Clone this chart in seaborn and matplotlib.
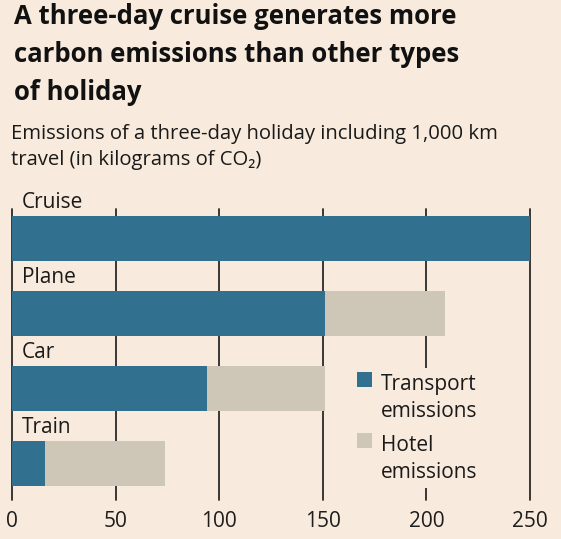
import matplotlib
matplotlib.use("Agg")
import seaborn as sns
from matplotlib import pyplot as plt
from matplotlib.patches import Rectangle

# Values (kg of CO2)
modes = ['Cruise', 'Plane', 'Car', 'Train']
transport = [250, 151, 94, 16]
hotel = [0, 58, 57, 58]
totals = [t + h for t, h in zip(transport, hotel)]
ticks = [0, 50, 100, 150, 200, 250]
legend_labels = ['Transport\nemissions', 'Hotel\nemissions']

bg = '#F8EBDD'
blue = '#31708F'
beige = '#CEC7B8'
W, H = 561, 539


def fx(px):
    return px / W


def fy(py):
    return 1 - py / H


sns.set_theme(style='white')
plt.rcParams['font.family'] = ['Open Sans', 'DejaVu Sans']

fig = plt.figure(figsize=(W / 100, H / 100), dpi=100, facecolor=bg)
ax = fig.add_axes([fx(12), fy(500), 518 / W, 291 / H])
ax.set_facecolor(bg)

sns.barplot(x=totals, y=modes, color=beige, width=0.6, saturation=1,
            linewidth=0, ax=ax, zorder=2)
sns.barplot(x=transport, y=modes, color=blue, width=0.6, saturation=1,
            linewidth=0, ax=ax, zorder=3)

ax.set_xlim(0, 250)
ax.set_ylim(3.48, -0.393)
ax.set_xticks(ticks)
ax.set_xticklabels([str(t) for t in ticks], fontsize=15, color='#1e1e1e')
ax.set_yticks([])
ax.set_xlabel('')
ax.set_ylabel('')
ax.tick_params(axis='x', length=0, pad=8)
for t in ticks:
    ax.axvline(t, color='#2a2a2a', lw=1.3, zorder=1, clip_on=False)
for s in ax.spines.values():
    s.set_visible(False)

for i, m in enumerate(modes):
    ax.text(4.8, i - 0.407, m, fontsize=15, color='#1a1a1a',
            va='baseline', ha='left', zorder=4)

# legend drawn by hand so the swatches sit against the first text line
fig.patches.append(Rectangle((fx(342), fy(488)), fx(490) - fx(342), fy(368) - fy(488),
                             transform=fig.transFigure, facecolor=bg, edgecolor='none', zorder=5))
for k, (lab, col) in enumerate(zip(legend_labels, [blue, beige])):
    top = 372 + 61 * k
    fig.patches.append(Rectangle((fx(357), fy(top + 15)), 15 / W, 15 / H,
                                 transform=fig.transFigure, facecolor=col,
                                 edgecolor='none', zorder=6))
    # baseline alignment anchors the last line of a two-line label
    fig.text(fx(381), fy(top + 45), lab, fontsize=15, color='#1a1a1a',
             va='baseline', ha='left', linespacing=1.35, zorder=6)

fig.text(fx(14), fy(3),
         'A three-day cruise generates more\ncarbon emissions than other types\nof holiday',
         fontsize=18.5, fontweight='bold', color='#111111', va='top', ha='left', linespacing=1.52)
fig.text(fx(11), fy(124),
         'Emissions of a three-day holiday including 1,000 km\ntravel (in kilograms of CO\u2082)',
         fontsize=14.6, color='#1a1a1a', va='top', ha='left', linespacing=1.38)

fig.savefig('out.png', dpi=100, facecolor=bg)
